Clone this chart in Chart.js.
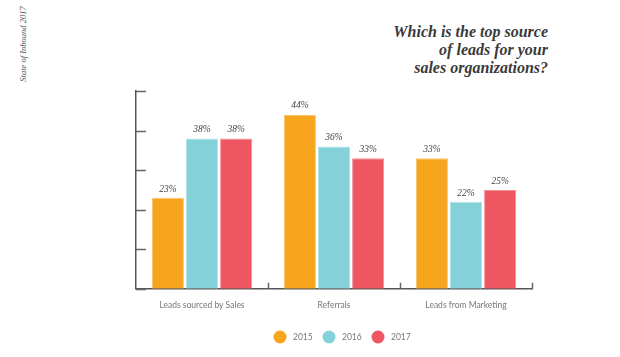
<!DOCTYPE html>
<html><head><meta charset="utf-8">
<script src="https://cdn.jsdelivr.net/npm/chart.js@4/dist/chart.umd.min.js"></script>
<style>
html,body{margin:0;padding:0;background:#fff;}
#wrap{position:relative;width:620px;height:357px;overflow:hidden;}
#title{position:absolute;right:72px;top:23px;text-align:right;font-family:"Liberation Serif","DejaVu Serif",serif;font-style:italic;font-weight:bold;font-size:16px;line-height:18px;color:#3a3a3a;}
#side{position:absolute;left:23px;top:44px;transform:translate(-50%,-50%) rotate(-90deg);font-family:"Liberation Serif",serif;font-style:italic;font-size:8.5px;color:#555;white-space:nowrap;}
canvas{position:absolute;left:0;top:0;}
</style></head>
<body><div id="wrap">
<div id="side">State of Inbound 2017</div>
<div id="title">Which is the top source<br>of leads for your<br>sales organizations?</div>
<canvas id="c" width="620" height="357"></canvas>
</div>
<script>
const categories = ["Leads sourced by Sales", "Referrals", "Leads from Marketing"];
const seriesNames = ["2015", "2016", "2017"];
const values2015 = [23, 44, 33];
const values2016 = [38, 36, 22];
const values2017 = [38, 33, 25];
const yTicks = [0, 10, 20, 30, 40, 50];
const colors = ["#F6A51D", "#84D1DA", "#EE5662"];
const borders = ["#FAC46A", "#B2E3E8", "#F48E96"];

const tickPlugin = {
  id: 'ticks',
  afterDraw(chart) {
    const ctx = chart.ctx, ca = chart.chartArea;
    const y = chart.scales.y, x = chart.scales.x;
    ctx.save();
    ctx.strokeStyle = '#666'; ctx.lineWidth = 1.5;
    yTicks.forEach(v => {
      const py = Math.round(y.getPixelForValue(v)) + 0.5;
      ctx.beginPath(); ctx.moveTo(ca.left, py); ctx.lineTo(ca.left + 10, py); ctx.stroke();
    });
    const w = (x.getPixelForValue(1) - x.getPixelForValue(0));
    for (let i = 1; i <= categories.length; i++) {
      const px = Math.round(x.getPixelForValue(i - 1) + w / 2) + 0.5;
      ctx.beginPath(); ctx.moveTo(px, ca.bottom); ctx.lineTo(px, ca.bottom - 6); ctx.stroke();
    }
    // data labels
    ctx.fillStyle = '#444';
    ctx.font = 'italic 9.5px "Liberation Serif", serif';
    ctx.textAlign = 'center'; ctx.textBaseline = 'bottom';
    chart.data.datasets.forEach((ds, di) => {
      chart.getDatasetMeta(di).data.forEach((el, i) => {
        ctx.fillText(ds.data[i] + '%', el.x, el.y - 4);
      });
    });
    // legend
    const cx = (ca.left + ca.right) / 2;
    const ly = 337;
    ctx.font = '8.5px Lato, "Noto Sans", sans-serif';
    ctx.textAlign = 'left'; ctx.textBaseline = 'middle';
    chart.data.datasets.forEach((ds, di) => {
      const px = cx - 54 + di * 49;
      ctx.fillStyle = ds.backgroundColor;
      ctx.beginPath(); ctx.arc(px, ly, 6.5, 0, Math.PI * 2); ctx.fill();
      ctx.fillStyle = '#777';
      ctx.fillText(ds.label, px + 13, ly + 0.5);
    });
    ctx.restore();
  }
};

new Chart(document.getElementById('c'), {
  type: 'bar',
  data: {
    labels: categories,
    datasets: seriesNames.map((n, i) => ({
      label: n,
      data: [values2015, values2016, values2017][i],
      backgroundColor: colors[i],
      borderColor: borders[i],
      borderWidth: 1,
      borderSkipped: 'bottom',
      categoryPercentage: 0.775,
      barPercentage: 0.94
    }))
  },
  options: {
    responsive: false,
    animation: false,
    layout: { padding: { left: 136, right: 88, top: 91, bottom: 36 } },
    scales: {
      x: {
        grid: { display: false, drawTicks: false },
        border: { color: '#555', width: 1.5 },
        ticks: { color: '#777', font: { family: 'Lato, "Noto Sans", sans-serif', size: 8.5 }, padding: 11 }
      },
      y: {
        min: 0, max: 50,
        afterBuildTicks(s) { s.ticks = yTicks.map(v => ({ value: v })); },
        grid: { display: false, drawTicks: false },
        border: { color: '#555', width: 1.5 },
        ticks: { display: false }
      }
    },
    plugins: {
      legend: { display: false },
      tooltip: { enabled: false }
    }
  },
  plugins: [tickPlugin]
});
</script>
</body></html>
